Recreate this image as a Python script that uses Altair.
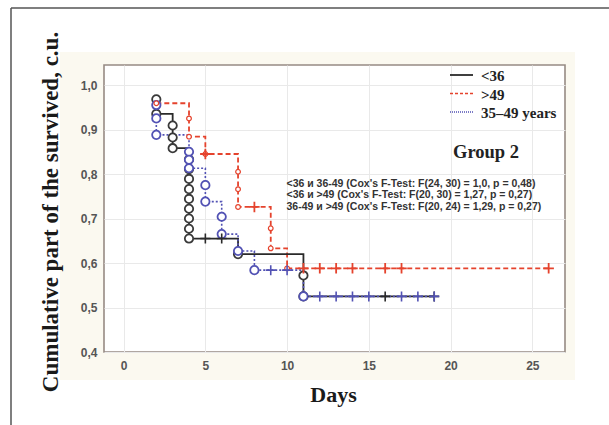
import altair as alt
import pandas as pd

# ---------------- data ----------------
# <36 (black, solid)
blk_line_days = [2, 2, 3, 4, 7, 11, 19]
blk_line_surv = [0.968, 0.935, 0.858, 0.655, 0.620, 0.525, 0.525]
blk_event_days = [2, 2, 3, 3, 3, 4, 4, 4, 4, 4, 4, 4, 4, 4, 7, 11, 11]
blk_event_surv = [0.968, 0.935, 0.909, 0.882, 0.858, 0.833, 0.811, 0.789, 0.766,
                  0.744, 0.722, 0.700, 0.677, 0.655, 0.620, 0.572, 0.525]
blk_cens_days = [5, 6, 16, 19]
blk_cens_surv = [0.655, 0.655, 0.525, 0.525]

# >49 (red, dashed)
red_line_days = [2, 4, 5, 7, 9, 10, 26]
red_line_surv = [0.959, 0.884, 0.845, 0.726, 0.633, 0.588, 0.588]
red_event_days = [2, 4, 4, 5, 7, 7, 7, 9, 9, 10]
red_event_surv = [0.959, 0.925, 0.884, 0.845, 0.805, 0.766, 0.726, 0.678, 0.633, 0.588]
red_cens_days = [5, 8, 11, 12, 13, 14, 16, 17, 26]
red_cens_surv = [0.845, 0.726, 0.588, 0.588, 0.588, 0.588, 0.588, 0.588, 0.588]

# 35-49 years (blue, dotted)
blu_line_days = [2, 2, 4, 5, 6, 7, 8, 11, 19]
blu_line_surv = [0.955, 0.888, 0.813, 0.738, 0.665, 0.627, 0.584, 0.525, 0.525]
blu_event_days = [2, 2, 2, 4, 4, 4, 5, 5, 6, 6, 7, 8, 11]
blu_event_surv = [0.955, 0.925, 0.888, 0.850, 0.832, 0.813, 0.775, 0.738, 0.704,
                  0.665, 0.627, 0.584, 0.525]
blu_cens_days = [9, 10, 12, 13, 14, 15, 17, 18, 19]
blu_cens_surv = [0.584, 0.584, 0.525, 0.525, 0.525, 0.525, 0.525, 0.525, 0.525]

x_ticks = [0, 5, 10, 15, 20, 25]
y_ticks = [0.4, 0.5, 0.6, 0.7, 0.8, 0.9, 1.0]

legend_labels = ["<36", ">49", "35\u201349 years"]
group_label = "Group 2"
test_lines = [
    "<36 \u0438 36-49 (Cox's F-Test: F(24, 30) = 1,0, p = 0,48)",
    "<36 \u0438 >49 (Cox's F-Test: F(20, 30) = 1,27, p = 0,27)",
    "36-49 \u0438 >49 (Cox's F-Test: F(20, 24) = 1,29, p = 0,27)",
]
x_title = "Days"
y_title = "Cumulative part of the survived, c.u."

# ---------------- styles ----------------
BLACK = "#2a2a2a"
RED = "#e5432d"
BLUE = "#5252b4"
SERIF = "Liberation Serif"
SANS = "Liberation Sans"
W, H = 461, 287
CREAM = "#fbf9f0"

xs = alt.Scale(domain=[-1.2, 27], nice=False, zero=False)
ys = alt.Scale(domain=[0.4, 1.045], nice=False, zero=False)

X = alt.X("d:Q", scale=xs,
          axis=alt.Axis(values=x_ticks, title=None, labelPadding=8, format="d"))
Y = alt.Y("s:Q", scale=ys,
          axis=alt.Axis(values=y_ticks, title=None, labelPadding=7,
                        labelExpr="replace(format(datum.value, '.1f'), '.', ',')"))

def df(d, s):
    return pd.DataFrame({"d": d, "s": s})

CROSS = "M-1,0L1,0M0,-1L0,1"

dummy = pd.DataFrame({"a": [0]})

def white_band(x1, x2, y1, y2):
    return alt.Chart(dummy).mark_rect(color="white").encode(
        x=alt.value(x1), x2=alt.value(x2), y=alt.value(y1), y2=alt.value(y2))

# canvas background is cream; white outside the cream figure region
layers = [
    white_band(-104, 505, -65, -13),
    white_band(-104, 505, 315, 360),
    white_band(-104, -44, -65, 360),
    white_band(471, 505, -65, 360),
]

# step lines
layers.append(alt.Chart(df(red_line_days, red_line_surv)).mark_line(
    interpolate="step-after", color=RED, strokeWidth=1.8, strokeDash=[5, 3]
).encode(x=X, y=Y, order="index:Q").transform_window(index="row_number()"))
layers.append(alt.Chart(df(blk_line_days, blk_line_surv)).mark_line(
    interpolate="step-after", color=BLACK, strokeWidth=1.8
).encode(x=X, y=Y, order="index:Q").transform_window(index="row_number()"))
layers.append(alt.Chart(df(blu_line_days, blu_line_surv)).mark_line(
    interpolate="step-after", color=BLUE, strokeWidth=1.6, strokeDash=[2, 2]
).encode(x=X, y=Y, order="index:Q").transform_window(index="row_number()"))

# events (circles)
layers.append(alt.Chart(df(blk_event_days, blk_event_surv)).mark_point(
    shape="circle", filled=False, fill="white", fillOpacity=1, stroke="#3a3a3a",
    strokeWidth=1.8, size=70, opacity=1).encode(x=X, y=Y))
layers.append(alt.Chart(df(blu_event_days, blu_event_surv)).mark_point(
    shape="circle", filled=False, fill="white", fillOpacity=1, stroke=BLUE,
    strokeWidth=1.8, size=70, opacity=1).encode(x=X, y=Y))
layers.append(alt.Chart(df(red_event_days, red_event_surv)).mark_point(
    shape="circle", filled=False, fill="white", fillOpacity=1, stroke=RED,
    strokeWidth=1.2, size=22, opacity=1).encode(x=X, y=Y))

# censored (crosses)
layers.append(alt.Chart(df(red_cens_days, red_cens_surv)).mark_point(
    shape=CROSS, filled=False, stroke=RED, strokeWidth=1.8, size=110, opacity=1
).encode(x=X, y=Y))
layers.append(alt.Chart(df(blk_cens_days, blk_cens_surv)).mark_point(
    shape=CROSS, filled=False, stroke=BLACK, strokeWidth=1.6, size=100, opacity=1
).encode(x=X, y=Y))
layers.append(alt.Chart(df(blu_cens_days, blu_cens_surv)).mark_point(
    shape=CROSS, filled=False, stroke=BLUE, strokeWidth=1.6, size=100, opacity=1
).encode(x=X, y=Y))

# legend
leg_y = [10, 28.5, 47]
leg_style = [dict(color=BLACK, strokeWidth=1.8),
             dict(color=RED, strokeWidth=1.5, strokeDash=[3, 2]),
             dict(color=BLUE, strokeWidth=1.4, strokeDash=[1, 1])]
for lab, yy, st in zip(legend_labels, leg_y, leg_style):
    layers.append(alt.Chart(dummy).mark_rule(**st).encode(
        x=alt.value(346), x2=alt.value(369), y=alt.value(yy)))
    layers.append(alt.Chart(dummy).mark_text(
        text=lab, font=SERIF, fontWeight="bold", fontSize=15, color="#222",
        align="left", baseline="middle").encode(x=alt.value(377), y=alt.value(yy + 1)))

layers.append(alt.Chart(dummy).mark_text(
    text=group_label, font=SERIF, fontWeight="bold", fontSize=18.5, color="#222",
    align="left", baseline="middle").encode(x=alt.value(349), y=alt.value(87)))

for t, yy in zip(test_lines, [118.5, 130, 141.5]):
    layers.append(alt.Chart(dummy).mark_text(
        text=t, font=SANS, fontWeight="bold", fontSize=10.5, color="#333",
        align="left", baseline="middle").encode(x=alt.value(182.5), y=alt.value(yy)))

# titles
layers.append(alt.Chart(dummy).mark_text(
    text=x_title, font=SERIF, fontWeight="bold", fontSize=22, color="#1a1a1a",
    align="center", baseline="alphabetic").encode(x=alt.value(229.5), y=alt.value(336.5)))
layers.append(alt.Chart(dummy).mark_text(
    text=y_title, font=SERIF, fontWeight="bold", fontSize=23, color="#1a1a1a",
    align="center", baseline="middle", angle=270).encode(x=alt.value(-53), y=alt.value(147)))

# outer frame
layers.append(alt.Chart(dummy).mark_rule(color="#555", strokeWidth=1.5).encode(
    x=alt.value(-93), y=alt.value(-57), y2=alt.value(362)))
layers.append(alt.Chart(dummy).mark_rule(color="#555", strokeWidth=1.5).encode(
    x=alt.value(-93), x2=alt.value(507), y=alt.value(-57)))

chart = alt.layer(*layers).properties(
    width=W, height=H,
    padding={"left": 104, "top": 65, "right": 44, "bottom": 73},
    autosize=alt.AutoSizeParams(type="none"),
    background=CREAM,
).configure_view(
    stroke="#978b84", strokeWidth=1.6, fill="white"
).configure_axis(
    labelFont=SANS, labelFontWeight="bold", labelFontSize=12, labelColor="#555",
    grid=True, gridColor="#e9e9e9", gridWidth=1, domain=False, ticks=False,
)

chart.save("out.html", embed_options={"renderer": "svg", "actions": False})
